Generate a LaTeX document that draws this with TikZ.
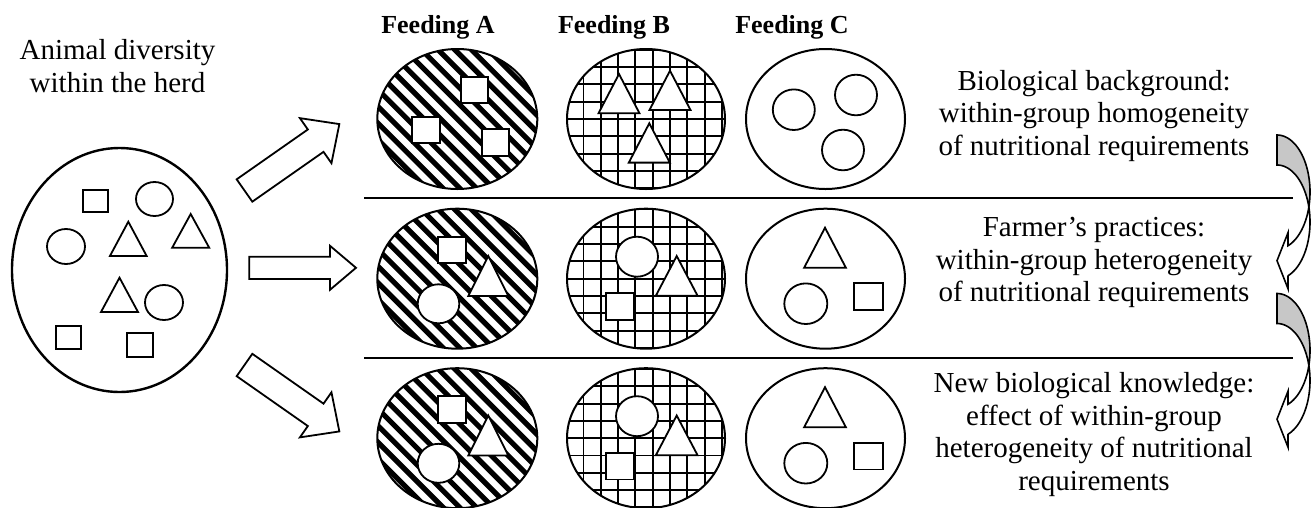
\documentclass[tikz,border=0pt]{standalone}
\usepackage{fontspec}
\setmainfont{Liberation Serif}
\usetikzlibrary{shapes.geometric}
\tikzset{
  shp/.style={draw, line width=1.8pt, fill=white},
  grp/.style={ellipse, draw, line width=2pt, inner sep=0pt, minimum height=140pt},
  hatch/.style={line width=5.2pt},
  gridl/.style={line width=1.9pt},
  barrow/.style={draw, line width=1.8pt, fill=white, line join=miter},
  carrow/.style={draw, line width=1.6pt, line join=miter},
  sepline/.style={line width=2pt},
  txt/.style={font=\fontsize{29}{32.5}\selectfont, align=center, inner sep=0pt, anchor=north},
  hd/.style={font=\bfseries\fontsize{26}{30}\selectfont, inner sep=0pt, anchor=base},
}
\newcommand\mytri[4]{\draw[shp] (#1,#2) -- ++(-#3/2,#4) -- ++(#3,0) -- cycle;}
\newcommand\mysq[4]{\draw[shp] (#1,#2) rectangle (#3,#4);}
\newcommand\mycirc[4]{\draw[shp] (#1,#2) ellipse [x radius=#3pt, y radius=#4pt];}
\newcommand\blockarr[7]{\draw[barrow, shift={(#1,#2)}, rotate=#3] (0,-#5/2) -- (#4-#7,-#5/2) -- (#4-#7,-#6/2) -- (#4,0) -- (#4-#7,#6/2) -- (#4-#7,#5/2) -- (0,#5/2) -- cycle;}
\newcommand\fgroups[2]{%
  \begin{scope}
    \clip (457.3,#1) ellipse [x radius=80pt, y radius=70pt];
    \foreach \i in {-16,...,16}{\draw[hatch] (457.3+\i*16.7-100,#1-100) -- ++(200,200);}
  \end{scope}
  \node[grp, minimum width=160pt] (A#2) at (457.3,#1) {};
  \begin{scope}
    \clip (646,#1) ellipse [x radius=79pt, y radius=70pt];
    \foreach \i in {-6,...,6}{\draw[gridl] (646+6.7+\i*17.3,#1-80) -- ++(0,160);
      \draw[gridl] (646-90,#1+\i*17.3) -- ++(180,0);}
  \end{scope}
  \node[grp, minimum width=158pt] (B#2) at (646,#1) {};
  \node[grp, minimum width=159pt] (C#2) at (825.5,#1) {};
}
% curved left arrow: two ellipses (rx 33, ry 57) centred at (0,57) and (0,87)
\newcommand\curvarr[2]{%
  \begin{scope}[shift={(#1,#2)}]
    \draw[carrow, fill=black!22]
      plot[domain=-90:15.26, samples=40] ({33*cos(\x)},{57+57*sin(\x)})
      -- plot[domain=-15.26:-90, samples=40] ({33*cos(\x)},{87+57*sin(\x)})
      -- cycle;
    \draw[carrow, fill=white]
      plot[domain=15.26:70.53, samples=30] ({33*cos(\x)},{57+57*sin(\x)})
      -- (11,97.7) -- (0,125.7) -- (11,153.7) -- (11,140.7)
      -- plot[domain=70.53:-15.26, samples=40] ({33*cos(\x)},{87+57*sin(\x)})
      -- cycle;
  \end{scope}
}
\begin{document}
\begin{tikzpicture}[x=1pt,y=-1pt]
\useasboundingbox (0,0) rectangle (1314,507);
% left herd
\node[txt] (herdlbl) at (117.5,39.2) {Animal diversity\\within the herd};
\node[ellipse, draw, line width=2.4pt, inner sep=0pt, minimum width=215pt, minimum height=244pt] (herd) at (119.5,270) {};
\mysq{83}{190}{108}{212}
\mycirc{154.5}{199}{18.5}{17}
\mycirc{66}{246.5}{19}{17.5}
\mytri{128.3}{221.7}{36.7}{34.3}
\mytri{190.7}{214}{37}{33.7}
\mytri{119.5}{277.7}{37}{34.3}
\mycirc{164}{302.5}{19}{17.5}
\mysq{56}{325.7}{81}{348.7}
\mysq{127}{333}{152.7}{356.7}
% block arrows
\blockarr{244.5}{190.5}{35}{115.8}{27.3}{55}{28.9}
\blockarr{249.3}{267.8}{0}{106.7}{22.3}{44}{26}
\blockarr{244.5}{365}{-35}{115.8}{27.3}{55}{28.9}
% headings
\node[hd] (fa) at (438,33.3) {Feeding A};
\node[hd] (fb) at (614,33.3) {Feeding B};
\node[hd] (fc) at (792,33.3) {Feeding C};
% groups
\fgroups{119}{1}
\fgroups{278.7}{2}
\fgroups{438.2}{3}
% row 1 shapes
\mysq{461}{76.7}{488.3}{102.7}
\mysq{412.3}{116.7}{440}{142.7}
\mysq{481.7}{129.3}{509.3}{156}
\mytri{670}{70.7}{41}{39.3}
\mytri{649.3}{123.3}{41}{39.3}
\mytri{619}{74}{41}{39.3}
\mycirc{793.8}{109.7}{21}{20.3}
\mycirc{856}{95}{21}{20.3}
\mycirc{843}{150}{21}{20.3}
% row 2 and 3 shapes
\foreach \dy in {0,159.5}{
  \mysq{437.7}{236.7+\dy}{466}{263.3+\dy}
  \mytri{488.3}{256+\dy}{40}{40}
  \mycirc{438.5}{303.8+\dy}{20.8}{19.5}
  \mycirc{637}{256.7+\dy}{21}{20}
  \mysq{606}{293.3+\dy}{634.3}{320+\dy}
  \mytri{676.7}{256+\dy}{41.7}{39.7}
  \mytri{825}{227.7+\dy}{41.7}{40}
  \mycirc{805.8}{303.7+\dy}{21.5}{20.3}
  \mysq{854.3}{283.3+\dy}{883.3}{310+\dy}
}
% separators
\coordinate (s1a) at (364,197.7); \coordinate (s1b) at (1293,197.7);
\coordinate (s2a) at (364,357.8); \coordinate (s2b) at (1293,357.8);
\draw[sepline] (s1a) -- (s1b);
\draw[sepline] (s2a) -- (s2b);
% right texts
\node[txt] (t1) at (1094,70) {Biological background:\\within-group homogeneity\\of nutritional requirements};
\node[txt] (t2) at (1094,217.2) {Farmer's practices:\\within-group heterogeneity\\of nutritional requirements};
\node[txt] (t3) at (1094,372.2) {New biological knowledge:\\effect of within-group\\heterogeneity of nutritional\\requirements};
% curved arrows
\curvarr{1277}{135}
\curvarr{1277}{293.5}
\end{tikzpicture}
\end{document}
